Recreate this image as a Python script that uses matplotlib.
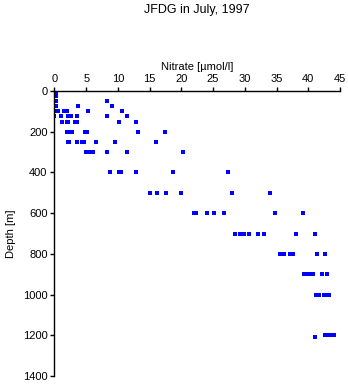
import matplotlib
matplotlib.use("Agg")
import matplotlib.pyplot as plt

plt.rcParams['font.family'] = ['Liberation Sans', 'DejaVu Sans']

# Depth levels and nitrate values
depth_levels = [0, 5, 10, 20, 25, 50, 75, 100, 125, 150, 200, 250, 300,
                400, 500, 600, 700, 800, 900, 1000, 1200, 1210]
nitrate_by_depth = [
    [0.1, 0.2],
    [0.0, 0.3],
    [0.1, 0.2],
    [0.0, 0.3],
    [0.1, 0.2],
    [0.1, 0.3, 8.3],
    [0.1, 0.3, 3.7, 9.0],
    [0.0, 0.3, 0.6, 1.5, 1.9, 5.3, 10.7],
    [0.0, 1.0, 2.2, 2.6, 3.6, 8.3, 11.5],
    [1.2, 1.9, 2.2, 3.2, 3.5, 10.1, 12.9],
    [2.0, 2.2, 2.7, 4.8, 5.2, 13.2, 17.4],
    [2.1, 2.3, 3.5, 4.4, 4.7, 6.5, 9.5, 16.0],
    [5.0, 5.3, 5.7, 6.0, 8.3, 11.5, 20.2],
    [8.8, 10.1, 10.5, 12.9, 18.7, 27.4],
    [15.1, 16.1, 17.6, 20.0, 27.9, 33.9],
    [22.0, 22.3, 24.1, 25.2, 26.7, 34.8, 39.1],
    [28.4, 29.3, 29.8, 30.6, 32.0, 33.0, 38.1, 41.0],
    [35.6, 36.1, 37.1, 37.6, 41.4, 42.6],
    [39.4, 39.8, 40.3, 40.8, 42.2, 43.0],
    [41.2, 41.7, 42.4, 42.8, 43.3],
    [42.7, 43.1, 43.5, 44.0],
    [41.0],
]
x_ticks = [0, 5, 10, 15, 20, 25, 30, 35, 40, 45]
y_ticks = [0, 200, 400, 600, 800, 1000, 1200, 1400]

xs, ys = [], []
for d, vals in zip(depth_levels, nitrate_by_depth):
    for v in vals:
        xs.append(v)
        ys.append(d)

fig = plt.figure(figsize=(3.48, 3.84), dpi=100)
ax = fig.add_axes([54.5/348, 1 - 376/384, (340 - 54.5)/348, (376 - 91)/384])
ax.scatter(xs, ys, marker='s', s=5, color='#0000ff', linewidths=0)
ax.set_xlim(0, 45)
ax.set_ylim(1400, 0)
ax.xaxis.tick_top()
ax.xaxis.set_label_position('top')
ax.set_xticks(x_ticks)
ax.set_yticks(y_ticks)
ax.spines['right'].set_visible(False)
ax.spines['bottom'].set_visible(False)
for s in ['left', 'top']:
    ax.spines[s].set_linewidth(1.0)
ax.tick_params(direction='out', length=3, width=1, labelsize=8, pad=2)
ax.set_xlabel('Nitrate [µmol/l]', fontsize=8, labelpad=3)
ax.set_ylabel('Depth [m]', fontsize=8, labelpad=5)
fig.text(197/348, 1 - 10/384, 'JFDG in July, 1997', ha='center', va='center', fontsize=9)
fig.savefig('out.png', dpi=100)
